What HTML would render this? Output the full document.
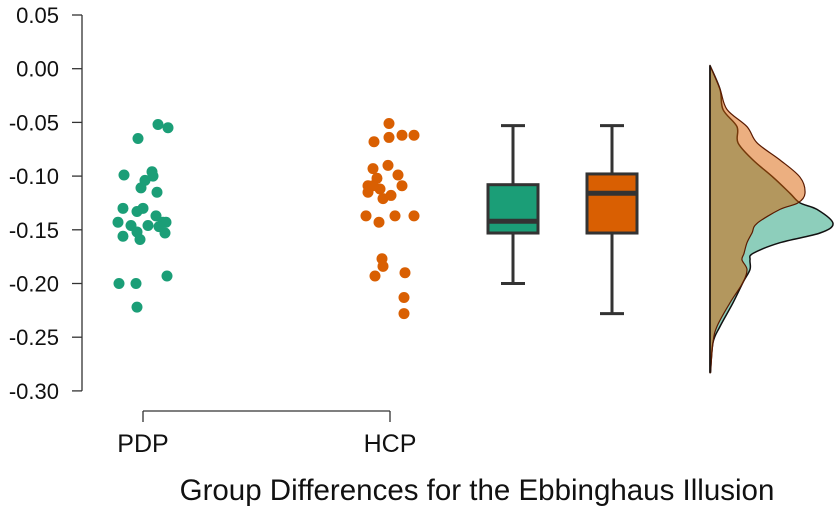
<!DOCTYPE html>
<html><head><meta charset="utf-8"><style>
html,body{margin:0;padding:0;background:#fff}
svg{display:block;font-family:"Liberation Sans",sans-serif}
</style></head><body>
<svg id="chart" width="839" height="509" viewBox="0 0 839 509" xmlns="http://www.w3.org/2000/svg">
<g id="yaxis"></g>
<g id="xaxis"></g>
<g id="points"></g>
<g id="boxes"></g>
<g id="dens"></g>
<text x="477" y="500" font-size="29.5" text-anchor="middle" fill="#111">Group Differences for the Ebbinghaus Illusion</text>
</svg>
<script>
const yTicks = [0.05, 0.00, -0.05, -0.10, -0.15, -0.20, -0.25, -0.30];
const yTickLabels = ["0.05","0.00","-0.05","-0.10","-0.15","-0.20","-0.25","-0.30"];
const groups = ["PDP","HCP"];
const pdpX = [158,168,138,124,152,153,145,141,157,123,143,137,156,118,131,148,163,166,137,123,140,165,159,119,136,167,137];
const pdpY = [-0.052,-0.055,-0.065,-0.099,-0.096,-0.100,-0.104,-0.111,-0.115,-0.130,-0.130,-0.133,-0.137,-0.143,-0.146,-0.146,-0.143,-0.143,-0.152,-0.156,-0.159,-0.153,-0.147,-0.200,-0.200,-0.193,-0.222];
const hcpX = [389,374,389,402,414,373,388,398,377,368,368,380,402,383,391,373,366,379,395,414,382,383,375,405,404,404];
const hcpY = [-0.051,-0.068,-0.064,-0.062,-0.062,-0.093,-0.090,-0.099,-0.102,-0.109,-0.115,-0.112,-0.109,-0.121,-0.118,-0.109,-0.137,-0.143,-0.137,-0.137,-0.177,-0.184,-0.193,-0.190,-0.213,-0.228];
const boxCenters = [513, 612];
const boxMin = [-0.200, -0.228];
const boxQ1 = [-0.153, -0.153];
const boxMed = [-0.142, -0.116];
const boxQ3 = [-0.108, -0.098];
const boxMax = [-0.053, -0.053];
const densY = [0.003,-0.019,-0.038,-0.054,-0.069,-0.085,-0.101,-0.116,-0.125,-0.131,-0.144,-0.153,-0.162,-0.172,-0.178,-0.187,-0.199,-0.218,-0.240,-0.255,-0.283];
const densPDP = [0,1.0,1.3,2.7,2.8,4.3,6.3,8.0,9.0,10.7,12.3,11.0,7.0,4.3,4.0,4.0,3.3,2.3,1.0,0.3,0.05];
const densHCP = [0,1.0,1.7,3.7,4.7,7.0,9.0,9.5,8.8,7.0,4.7,4.2,3.7,3.4,3.2,3.7,3.3,2.0,0.7,0.3,0.05];
const colors = ["#1b9e77","#d95f02"];
const NS="http://www.w3.org/2000/svg";
function yS(v){return 68.7-(v/0.05)*53.7;}
function dS(d){return 710+d*10;}
function mk(tag,attrs,parent){const e=document.createElementNS(NS,tag);for(const k in attrs)e.setAttribute(k,attrs[k]);parent.appendChild(e);return e;}
const ya=document.getElementById('yaxis');
mk('line',{x1:82,x2:82,y1:yS(yTicks[0]),y2:yS(yTicks[yTicks.length-1]),stroke:'#333','stroke-width':1.3},ya);
yTicks.forEach((t,i)=>{
  const l=mk('line',{x1:72,x2:82,y1:yS(t),y2:yS(t),stroke:'#333','stroke-width':1.3},ya);
  
  
  const tx=mk('text',{x:59,y:yS(t)+8,'font-size':22,'text-anchor':'end',fill:'#111'},ya);
  tx.textContent=yTickLabels[i];
  
  
});
const xa=document.getElementById('xaxis');
const gx=[143,390];
mk('line',{x1:gx[0],x2:gx[1],y1:411,y2:411,stroke:'#333','stroke-width':1.3},xa);
groups.forEach((g,i)=>{
  const l=mk('line',{x1:gx[i],x2:gx[i],y1:411,y2:422,stroke:'#333','stroke-width':1.3},xa);
  
  
  const t=mk('text',{x:gx[i],y:452,'font-size':25,'text-anchor':'middle',fill:'#111'},xa);
  t.textContent=g;
  
  
});
const pg=document.getElementById('points');
pdpY.forEach((v,i)=>{const c=mk('circle',{cx:pdpX[i],cy:yS(v),r:5.5,fill:colors[0]},pg);
  
  });
hcpY.forEach((v,i)=>{const c=mk('circle',{cx:hcpX[i],cy:yS(v),r:5.5,fill:colors[1]},pg);
  
  });
const bg=document.getElementById('boxes');
boxCenters.forEach((cx,i)=>{
  const g=mk('g',{},bg);
  
  
  const s={stroke:'#333','stroke-width':3};
  mk('line',Object.assign({x1:cx,x2:cx,y1:yS(boxMax[i]),y2:yS(boxQ3[i])},s),g);
  mk('line',Object.assign({x1:cx,x2:cx,y1:yS(boxQ1[i]),y2:yS(boxMin[i])},s),g);
  mk('line',Object.assign({x1:cx-12,x2:cx+12,y1:yS(boxMax[i]),y2:yS(boxMax[i])},s),g);
  mk('line',Object.assign({x1:cx-12,x2:cx+12,y1:yS(boxMin[i]),y2:yS(boxMin[i])},s),g);
  mk('rect',Object.assign({x:cx-25,y:yS(boxQ3[i]),width:50,height:yS(boxQ1[i])-yS(boxQ3[i]),fill:colors[i]},s),g);
  mk('line',{x1:cx-25,x2:cx+25,y1:yS(boxMed[i]),y2:yS(boxMed[i]),stroke:'#333','stroke-width':5},g);
});
const dg=document.getElementById('dens');
function dpath(arr){
  const pts=densY.map((v,i)=>[dS(arr[i]),yS(v)]);
  let d='M'+dS(0)+','+pts[0][1].toFixed(1)+' L'+pts[0][0].toFixed(1)+','+pts[0][1].toFixed(1);
  for(let i=0;i<pts.length-1;i++){
    const p0=pts[Math.max(0,i-1)],p1=pts[i],p2=pts[i+1],p3=pts[Math.min(pts.length-1,i+2)];
    const c1=[p1[0]+(p2[0]-p0[0])/6,p1[1]+(p2[1]-p0[1])/6];
    const c2=[p2[0]-(p3[0]-p1[0])/6,p2[1]-(p3[1]-p1[1])/6];
    d+=' C'+c1[0].toFixed(1)+','+c1[1].toFixed(1)+' '+c2[0].toFixed(1)+','+c2[1].toFixed(1)+' '+p2[0].toFixed(1)+','+p2[1].toFixed(1);
  }
  d+=' L'+dS(0)+','+pts[pts.length-1][1].toFixed(1)+' Z';return d;}
const p1=mk('path',{d:dpath(densPDP),fill:'rgba(27,158,119,0.5)',stroke:'#111','stroke-width':1.5,'stroke-linejoin':'round'},dg);


const p2=mk('path',{d:dpath(densHCP),fill:'rgba(217,95,2,0.5)',stroke:'#5a1a00','stroke-width':1.2,'stroke-linejoin':'round'},dg);


mk('line',{x1:710,x2:710,y1:yS(densY[0]),y2:yS(densY[densY.length-1]),stroke:'#111','stroke-width':1.5},dg);
</script>
</body></html>
